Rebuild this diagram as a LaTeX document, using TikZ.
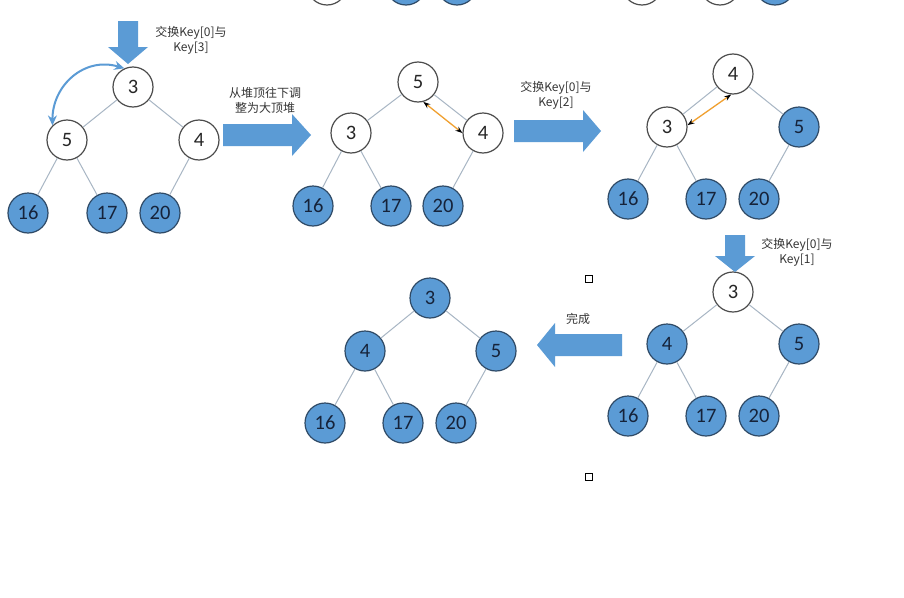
\documentclass[tikz,border=0pt]{standalone}
\usepackage{fontspec}
\setmainfont{Carlito}
\newfontfamily\cjk{Noto Sans CJK SC}
\usetikzlibrary{arrows.meta}

\definecolor{nodeblue}{HTML}{5B9BD5}
\definecolor{nodeedge}{HTML}{2F4A66}
\definecolor{numdark}{HTML}{16233A}
\definecolor{linkgray}{HTML}{A8B6C4}
\definecolor{swaporange}{HTML}{F0A030}
\definecolor{arrowblue}{HTML}{5B9BD5}
\definecolor{labelgray}{HTML}{363636}

\begin{document}
\begin{tikzpicture}[x=1pt,y=-1pt,
  keynode/.style={circle, minimum size=40pt, inner sep=0pt, line width=1.2pt,
    font=\fontsize{20.5}{20.5}\selectfont},
  open/.style={keynode, draw=black!70, fill=white, text=black!85},
  done/.style={keynode, draw=nodeedge, fill=nodeblue, text=numdark},
  link/.style={draw=linkgray, line width=1pt},
  swap/.style={draw=swaporange, line width=1.3pt,
    {Stealth[color=black,length=7pt,width=5pt]}-{Stealth[color=black,length=7pt,width=5pt]}},
  note/.style={font=\cjk\fontsize{12}{15}\selectfont, text=labelgray, align=center},
  marker/.style={draw=black, fill=white, line width=0.9pt, minimum size=7pt, inner sep=0pt},
  bigarrow/.style={fill=arrowblue},
]
\useasboundingbox (0,0) rectangle (904,597);
\fill[white] (0,0) rectangle (904,597);
\clip (0,0) rectangle (904,597);

% heap rows cut by the top edge
\node[open] (top1) at (327,-15) {};
\node[done] (top2) at (406,-15) {};
\node[done] (top3) at (457,-15) {};
\node[open] (top4) at (642,-15) {};
\node[open] (top5) at (720,-15) {};
\node[done] (top6) at (775,-15) {};

% heap 1: 3 at the root after swapping Key[0] and Key[3]
\node[open] (t1a) at (133,87) {3};
\node[open] (t1b) at (67,140) {5};
\node[open] (t1c) at (199,140) {4};
\node[done] (t1d) at (28,213) {16};
\node[done] (t1e) at (107,213) {17};
\node[done] (t1f) at (160,213) {20};
\draw[link] (t1a) -- (t1b) (t1a) -- (t1c) (t1b) -- (t1d) (t1b) -- (t1e) (t1c) -- (t1f);
\draw[arrowblue, line width=2pt, {Stealth[length=10pt,width=9pt]}-{Stealth[length=10pt,width=9pt]}]
  (t1b.135) .. controls +(0,-40) and +(-40,-12) .. (t1a.115);

% heap 2: sifted down into a max heap
\node[open] (t2a) at (418,82) {5};
\node[open] (t2b) at (351,133) {3};
\node[open] (t2c) at (483,133) {4};
\node[done] (t2d) at (313,206) {16};
\node[done] (t2e) at (391,206) {17};
\node[done] (t2f) at (443,206) {20};
\draw[link] (t2a) -- (t2b) (t2a) -- (t2c) (t2b) -- (t2d) (t2b) -- (t2e) (t2c) -- (t2f);
\draw[swap] (t2a.-75) -- (t2c.180);

% heap 3: after swapping Key[0] and Key[2]
\node[open] (t3a) at (733,74) {4};
\node[open] (t3b) at (667,127) {3};
\node[done] (t3c) at (799,127) {5};
\node[done] (t3d) at (628,199) {16};
\node[done] (t3e) at (706,199) {17};
\node[done] (t3f) at (759,199) {20};
\draw[link] (t3a) -- (t3b) (t3a) -- (t3c) (t3b) -- (t3d) (t3b) -- (t3e) (t3c) -- (t3f);
\draw[swap] (t3a.-95) -- (t3b.5);

% heap 4: after swapping Key[0] and Key[1]
\node[open] (t4a) at (733,292) {3};
\node[done] (t4b) at (667,344) {4};
\node[done] (t4c) at (799,344) {5};
\node[done] (t4d) at (628,416) {16};
\node[done] (t4e) at (706,416) {17};
\node[done] (t4f) at (759,416) {20};
\draw[link] (t4a) -- (t4b) (t4a) -- (t4c) (t4b) -- (t4d) (t4b) -- (t4e) (t4c) -- (t4f);

% heap 5: sorted
\node[done] (t5a) at (430,298) {3};
\node[done] (t5b) at (365,351) {4};
\node[done] (t5c) at (496,351) {5};
\node[done] (t5d) at (325,423) {16};
\node[done] (t5e) at (403,423) {17};
\node[done] (t5f) at (456,423) {20};
\draw[link] (t5a) -- (t5b) (t5a) -- (t5c) (t5b) -- (t5d) (t5b) -- (t5e) (t5c) -- (t5f);

% step arrows
\fill[bigarrow] (118,21) -- (138,21) -- (138,47) -- (148,47) -- (128,64) -- (108,47) -- (118,47) -- cycle;
\fill[bigarrow] (223,124) -- (292,124) -- (292,114) -- (311,135) -- (292,156) -- (292,146) -- (223,146) -- cycle;
\fill[bigarrow] (514,120) -- (583,120) -- (583,110) -- (601,131) -- (583,152) -- (583,142) -- (514,142) -- cycle;
\fill[bigarrow] (725,235) -- (745,235) -- (745,256) -- (755,256) -- (735,272) -- (715,256) -- (725,256) -- cycle;
\fill[bigarrow] (622,334) -- (555,334) -- (555,323) -- (537,345) -- (555,367) -- (555,356) -- (622,356) -- cycle;

% step labels
\node[note] (n1) at (191,40) {交换Key[0]与\\Key[3]};
\node[note] (n2) at (265,100) {从堆顶往下调\\整为大顶堆};
\node[note] (n3) at (556,95) {交换Key[0]与\\Key[2]};
\node[note] (n4) at (797,252) {交换Key[0]与\\Key[1]};
\node[note] (n5) at (578,319) {完成};

% small markers
\node[marker] (m1) at (589,279) {};
\node[marker] (m2) at (589,477) {};
\end{tikzpicture}
\end{document}
